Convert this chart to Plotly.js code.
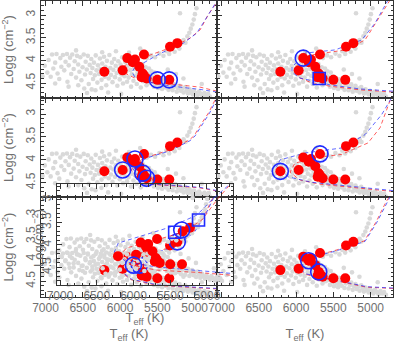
<!DOCTYPE html>
<html>
<head>
<meta charset="utf-8">
<script src="https://cdn.plot.ly/plotly-3.0.1.min.js"></script>
<style>
html, body { margin: 0; padding: 0; background: #fff; }
#graph { width: 395px; height: 343px; }
</style>
</head>
<body>
<div id="graph"></div>
<script>
// HR diagrams (Teff vs logg): field sample in grey, targets in red,
// highlighted targets in blue, two isochrones per panel (red / blue dashed)

// field sample, [Teff, logg]
var greyStars = [
  [7010,4.12],[6975,4.27],[6958,3.99],[6930,4.36],[6912,3.87],[6895,4.18],[6870,4.05],[6852,3.86],[6838,4.29],[6815,4.41],
  [6801,3.95],[6787,4.14],[6766,3.88],[6748,4.22],[6731,4.03],[6712,3.86],[6705,4.47],[6688,4.11],[6671,3.94],[6655,4.30],
  [6641,3.87],[6622,4.19],[6608,4.02],[6590,4.38],[6577,3.90],[6561,4.09],[6545,4.25],[6533,3.93],[6518,4.44],[6502,4.15],
  [6487,3.87],[6470,4.31],[6461,4.03],[6446,4.20],[6432,3.90],[6420,4.52],[6407,4.10],
  [6395,4.28],[6386,3.97],[6371,4.17],[6362,4.41],[6350,4.05],[6338,4.33],[6326,3.89],[6315,4.22],[6304,4.49],[6296,4.11],
  [6282,4.30],[6270,3.96],[6261,4.19],[6248,4.43],[6239,4.07],[6228,4.26],[6215,3.92],[6204,4.36],[6196,4.14],[6185,4.55],
  [6176,4.01],[6164,4.24],[6152,4.40],[6143,3.88],[6131,4.17],[6122,4.32],[6110,4.05],[6101,4.48],[6089,4.21],[6078,3.97],
  [6067,4.37],[6058,4.12],[6045,4.28],[6036,4.56],[6024,4.02],[6015,4.19],[6004,4.42],[5993,4.09],[5982,4.31],[5971,3.93],
  [5960,4.51],[5951,4.16],[5940,4.35],[5928,4.04],[5917,4.25],[5906,4.47],[5897,4.12],[5885,4.38],[5874,3.99],[5863,4.21],
  [5852,4.58],[5843,4.30],[5831,4.10],[5820,4.45],[5809,4.19],[5798,4.34],[5787,4.03],[5776,4.52],[5765,4.26],[5756,4.13],
  [5744,4.40],[5733,4.22],[5722,4.60],[5711,4.31],[5700,4.08],[5689,4.46],[5678,4.24],[5667,4.37],[5656,4.15],[5645,4.55],
  [5634,4.29],[5623,4.42],[5612,4.18],[5601,4.50],[5590,4.33],[5579,4.24],[5568,4.47],[5557,4.38],[5546,4.58],[5535,4.27],
  [5524,4.44],[5513,4.52],[5502,4.35],[5491,4.61],[5480,4.46],[5469,4.39],[5458,4.55],[5447,4.49],[5436,4.63],[5425,4.42],
  [5414,4.57],[5403,4.51],
  [5388,4.60],[5366,4.47],[5351,4.65],[5332,4.55],[5310,4.50],[5296,4.66],[5275,4.58],[5259,4.53],[5240,4.69],[5221,4.61],
  [5203,4.56],[5186,4.67],[5164,4.62],[5148,4.71],[5126,4.59],[5107,4.66],[5090,4.73],[5068,4.64],[5049,4.70],[5027,4.75],
  [5008,4.67],[4985,4.72],[4962,4.77],[4940,4.69],[4915,4.74],[4893,4.79],[4868,4.72],[4844,4.77],[4820,4.74],[4795,4.80],
  [5640,3.95],[5585,3.89],[5530,3.93],[5472,3.85],[5418,3.90],[5380,3.80],[5341,3.86],[5302,3.75],[5268,3.81],[5236,3.69],
  [5204,3.74],[5176,3.62],[5148,3.55],[5123,3.61],[5097,3.47],[5071,3.39],[5052,3.30],[5030,3.21],[5012,3.10],[4996,2.98],
  [5196,2.96],[4975,2.85],
  [6330,4.66],[6160,4.71],[5985,4.74],[6480,4.62],[6690,4.58],[6870,4.51],[7040,4.35],[6055,3.80],[5880,3.83],[6240,3.82],
  [4905,4.52],[5730,3.74],[6590,3.78],[5360,4.20],[5250,4.30],[5150,4.40],[6443,4.72],[6380,4.64],[6560,4.55],[6250,4.61]
];
var greyTeff = greyStars.map(function (p) { return p[0]; });
var greyLogg = greyStars.map(function (p) { return p[1]; });

// targets
var redTeff = [6211, 5965, 5903, 5830, 5800, 5679, 5742, 5696, 5710, 5679, 5643, 5500, 5340, 5330, 5232];
var redLogg = [4.25, 4.22, 3.95, 4.04, 3.98, 3.87, 4.14, 4.29, 4.37, 4.34, 4.40, 4.43, 4.43, 3.70, 3.62];

// highlighted targets, per panel
var circTL_T = [5500, 5340],               circTL_G = [4.43, 4.43];
var circTR_T = [5903],                     circTR_G = [3.95];
var sqTR_T = [5690],                       sqTR_G = [4.40];
var circML_T = [5965, 5800, 5696, 5643],   circML_G = [4.22, 3.98, 4.29, 4.40];
var circMR_T = [6211, 5679],               circMR_G = [4.25, 3.87];
var circBL_T = [5232, 5742],               circBL_G = [3.62, 4.14];
var circBR_T = [5830, 5696],               circBR_G = [4.04, 4.29];
var circIn_T = [5344, 6001],               circIn_G = [3.67, 4.45];
var sqIn_T = [5440, 5115],                 sqIn_G = [3.72, 3.45];

// isochrones (Teff, logg) per panel
var isoTL_bT = [4700, 4928, 5196, 5464, 5665, 5800, 5840, 5800, 5733, 5464, 5152, 4972, 4860, 4727, 4690];
var isoTL_bG = [4.70, 4.64, 4.59, 4.53, 4.46, 4.37, 4.26, 4.15, 4.10, 3.85, 3.62, 3.40, 3.11, 2.78, 2.66];
var isoTL_rT = [4700, 4928, 5330, 5692, 5893, 6000, 5893, 5598, 5290, 5062, 4928, 4820, 4700];
var isoTL_rG = [4.68, 4.59, 4.52, 4.47, 4.32, 4.21, 4.06, 3.88, 3.70, 3.51, 3.33, 3.00, 2.71];

var isoTR_bT = [4700, 5142, 5545, 5947, 6054, 6054, 5880, 5478, 5120, 4941, 4767];
var isoTR_bG = [4.68, 4.63, 4.54, 4.39, 4.26, 4.15, 3.84, 3.77, 3.55, 3.18, 2.67];
var isoTR_rT = [4700, 5142, 5545, 5813, 5974, 5974, 5790, 5344, 5075, 4901, 4740];
var isoTR_rG = [4.70, 4.65, 4.57, 4.48, 4.37, 4.17, 3.88, 3.77, 3.55, 3.11, 2.67];

var isoML_bT = [4700, 4928, 5330, 5688, 5733, 5826, 5733, 5643, 5330, 5060, 4995, 4928, 4800, 4704];
var isoML_bG = [4.67, 4.60, 4.55, 4.52, 4.40, 4.22, 4.05, 3.96, 3.80, 3.58, 3.48, 3.30, 2.98, 2.67];
var isoML_rT = [4700, 4935, 5340, 5700, 5760, 5850, 5760, 5655, 5345, 5075, 5005, 4940, 4812, 4716];
var isoML_rG = [4.68, 4.61, 4.56, 4.52, 4.41, 4.22, 4.04, 3.95, 3.79, 3.57, 3.47, 3.29, 2.97, 2.66];

var isoMR_bT = [4700, 5142, 5790, 6104, 6260, 6215, 5880, 5388, 5075, 4851, 4717];
var isoMR_bG = [4.67, 4.60, 4.49, 4.37, 4.15, 4.00, 3.85, 3.74, 3.45, 3.01, 2.64];
var isoMR_rT = [4700, 5142, 5680, 5947, 6081, 6014, 5680, 5388, 5035, 4874, 4763, 4727];
var isoMR_rG = [4.69, 4.62, 4.53, 4.44, 4.27, 4.07, 3.94, 3.88, 3.63, 3.30, 2.78, 2.65];

var isoBL_bT = [4700, 5000, 5500, 5850, 6000, 5950, 5600, 5250, 5000, 4850, 4740];
var isoBL_bG = [4.66, 4.63, 4.58, 4.45, 4.25, 4.05, 3.90, 3.72, 3.40, 3.00, 2.62];
var isoBL_rT = [4700, 5010, 5510, 5860, 6010, 5960, 5610, 5260, 5010, 4860, 4750];
var isoBL_rG = [4.67, 4.64, 4.59, 4.46, 4.25, 4.04, 3.89, 3.71, 3.39, 2.99, 2.62];

var isoBR_bT = [4700, 5052, 5478, 5880, 5947, 5836, 5478, 5075, 4918, 4784, 4740];
var isoBR_bG = [4.65, 4.62, 4.47, 4.33, 4.20, 3.98, 3.83, 3.61, 3.19, 2.74, 2.62];
var isoBR_rT = [4700, 5060, 5490, 5890, 5960, 5850, 5490, 5085, 4928, 4794, 4750];
var isoBR_rG = [4.66, 4.63, 4.48, 4.34, 4.20, 3.97, 3.82, 3.60, 3.18, 2.73, 2.62];

var isoIn_bT = [4685, 5138, 5686, 6097, 6261, 6207, 5864, 5508, 5138, 4933, 4700];
var isoIn_bG = [4.63, 4.56, 4.49, 4.38, 4.16, 3.96, 3.78, 3.61, 3.34, 3.00, 2.67];
var isoIn_rT = [4685, 5138, 5686, 6029, 6180, 6097, 5686, 5330, 5070, 4864, 4700];
var isoIn_rG = [4.67, 4.61, 4.56, 4.45, 4.23, 4.07, 3.89, 3.72, 3.45, 3.00, 2.69];

//////////////////////////////////////////////////////////
var W = 395, H = 343;
var BLUE = '#1f2bff', RED = '#ff1a1a';
var tickFont = {family: 'Liberation Sans, Arial, sans-serif', size: 12, color: '#707070'};
var titleFont = {family: 'Liberation Sans, Arial, sans-serif', size: 13, color: '#707070'};

function px(a, b) { return [a / W, b / W]; }
function py(top, bot) { return [1 - bot / H, 1 - top / H]; } // pixel rows -> paper

function panel(xa, ya, lines, circT, circG, sqT, sqG) {
  var tr = [];
  tr.push({x: greyTeff, y: greyLogg, xaxis: xa, yaxis: ya, type: 'scatter', mode: 'markers',
           marker: {size: 4.6, color: '#d9d9d9'}});
  tr.push({x: lines[2], y: lines[3], xaxis: xa, yaxis: ya, type: 'scatter', mode: 'lines',
           line: {color: RED, width: 1, dash: '4px,3px'}, opacity: 0.7});
  tr.push({x: lines[0], y: lines[1], xaxis: xa, yaxis: ya, type: 'scatter', mode: 'lines',
           line: {color: BLUE, width: 1, dash: '4px,3px'}, opacity: 0.7});
  tr.push({x: redTeff, y: redLogg, xaxis: xa, yaxis: ya, type: 'scatter', mode: 'markers',
           marker: {size: 10, color: '#ff0000'}});
  if (circT) tr.push({x: circT, y: circG, xaxis: xa, yaxis: ya, type: 'scatter', mode: 'markers',
           marker: {symbol: 'circle-open', size: 16, color: BLUE, line: {width: 1.6, color: BLUE}}});
  if (sqT) tr.push({x: sqT, y: sqG, xaxis: xa, yaxis: ya, type: 'scatter', mode: 'markers',
           marker: {symbol: 'square-open', size: 12, color: BLUE, line: {width: 1.6, color: BLUE}}});
  return tr;
}

function xax(dom, range, anchor, labels, title, standoff) {
  var a = {domain: dom, range: range, anchor: anchor, showline: true, mirror: 'allticks',
    linecolor: '#333', linewidth: 1, ticks: 'inside', ticklen: 5, tickcolor: '#333',
    tick0: 5000, dtick: 500, minor: {ticks: 'inside', ticklen: 2.5, dtick: 100, tickcolor: '#333'},
    showgrid: false, zeroline: false, showticklabels: labels, tickfont: tickFont, automargin: false};
  if (title) a.title = {text: title, font: titleFont, standoff: standoff};
  return a;
}
function yax(dom, range, anchor, labels, title) {
  var a = {domain: dom, range: range, anchor: anchor, showline: true, mirror: 'allticks',
    linecolor: '#333', linewidth: 1, ticks: 'inside', ticklen: 5, tickcolor: '#333',
    tick0: 0, dtick: 0.5, minor: {ticks: 'inside', ticklen: 2.5, dtick: 0.1, tickcolor: '#333'},
    showgrid: false, zeroline: false, showticklabels: labels, tickangle: -90, tickfont: tickFont, automargin: false};
  if (title) a.title = {text: title, font: titleFont, standoff: 7};
  return a;
}

var TEFF = 'T<sub>eff</sub> (K)';
var LOGG = 'Logg (cm<sup>\u22122</sup>)';
var xL = px(41, 217), xR = px(217, 393);
var rT = py(1, 98), rM = py(98, 197), rB = py(197, 297);
var xRange = [7060, 4700];

var data = [];
data = data.concat(panel('x', 'y', [isoTL_bT, isoTL_bG, isoTL_rT, isoTL_rG], circTL_T, circTL_G));
data = data.concat(panel('x2', 'y2', [isoTR_bT, isoTR_bG, isoTR_rT, isoTR_rG], circTR_T, circTR_G, sqTR_T, sqTR_G));
data = data.concat(panel('x3', 'y3', [isoML_bT, isoML_bG, isoML_rT, isoML_rG], circML_T, circML_G));
data = data.concat(panel('x4', 'y4', [isoMR_bT, isoMR_bG, isoMR_rT, isoMR_rG], circMR_T, circMR_G));
data = data.concat(panel('x5', 'y5', [isoBL_bT, isoBL_bG, isoBL_rT, isoBL_rG], circBL_T, circBL_G));
data = data.concat(panel('x6', 'y6', [isoBR_bT, isoBR_bG, isoBR_rT, isoBR_rG], circBR_T, circBR_G));
// the overlaid extra frame sitting on the lower left panel
data = data.concat(panel('x7', 'y7', [isoIn_bT, isoIn_bG, isoIn_rT, isoIn_rG], circIn_T, circIn_G, sqIn_T, sqIn_G));

var layout = {
  width: W, height: H,
  margin: {l: 0, r: 0, t: 0, b: 0},
  paper_bgcolor: '#fff', plot_bgcolor: 'rgba(0,0,0,0)',
  showlegend: false, hovermode: false,
  xaxis:  xax(xL, xRange, 'y', false),
  yaxis:  yax(rT, [4.83, 2.69], 'x', true, LOGG),
  xaxis2: xax(xR, xRange, 'y2', false),
  yaxis2: yax(rT, [4.83, 2.69], 'x2', false),
  xaxis3: xax(xL, xRange, 'y3', false),
  yaxis3: yax(rM, [4.81, 2.65], 'x3', true, LOGG),
  xaxis4: xax(xR, xRange, 'y4', false),
  yaxis4: yax(rM, [4.81, 2.65], 'x4', false),
  xaxis5: xax(xL, xRange, 'y5', true, TEFF, 17),
  yaxis5: yax(rB, [4.85, 2.62], 'x5', true, LOGG),
  xaxis6: xax(xR, xRange, 'y6', true, TEFF, 17),
  yaxis6: yax(rB, [4.85, 2.62], 'x6', false),
  xaxis7: xax(px(57, 233), [7041, 4646], 'y7', true, TEFF, 10),
  yaxis7: yax(py(184, 285), [4.89, 2.65], 'x7', true),
  annotations: [{
    text: 'Log(cm<sup>\u22122</sup>)', textangle: -90, showarrow: false,
    xref: 'paper', yref: 'paper', x: 38 / W, y: 1 - 238 / H,
    xanchor: 'center', yanchor: 'middle', font: titleFont
  }]
};

Plotly.newPlot('graph', data, layout, {staticPlot: true, displayModeBar: false});
</script>
</body>
</html>
